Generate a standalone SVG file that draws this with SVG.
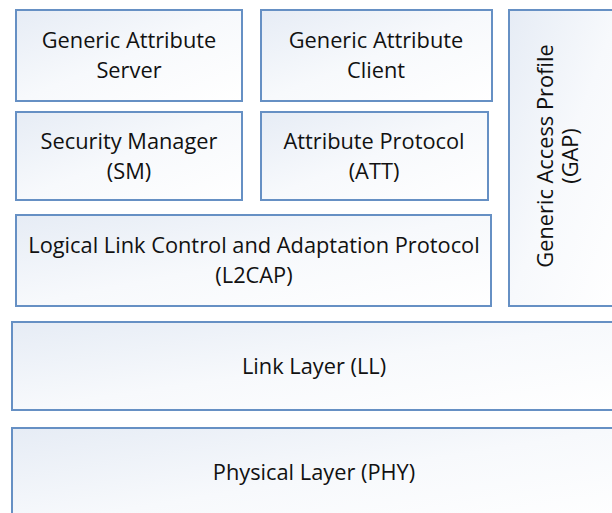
<svg xmlns="http://www.w3.org/2000/svg" width="612" height="513" viewBox="0 0 612 513">
<defs>
<linearGradient id="g" x1="0" y1="0" x2="1" y2="1">
<stop offset="0" stop-color="#e6ecf5"/>
<stop offset="0.5" stop-color="#f7f9fc"/>
<stop offset="1" stop-color="#ffffff"/>
</linearGradient>
</defs>
<style>
rect{fill:url(#g);stroke:#6690c4;stroke-width:2}
text{font-family:"Open Sans","Noto Sans",sans-serif;font-size:21.8px;fill:#111;text-anchor:middle}
</style>
<rect width="612" height="513" style="fill:#fff;stroke:none"/>
<g id="gas"><rect x="16" y="10" width="226" height="91"/><text x="129" y="48">Generic Attribute</text><text x="129" y="78">Server</text></g>
<g id="gac"><rect x="261" y="10" width="231" height="91"/><text x="376" y="48">Generic Attribute</text><text x="376" y="78">Client</text></g>
<g id="sm"><rect x="16" y="112" width="226" height="88"/><text x="129" y="149">Security Manager</text><text x="129" y="179">(SM)</text></g>
<g id="att"><rect x="261" y="112" width="227" height="88"/><text x="374" y="149">Attribute Protocol</text><text x="374" y="179">(ATT)</text></g>
<g id="l2cap"><rect x="16" y="215" width="475" height="91"/><text x="254" y="253">Logical Link Control and Adaptation Protocol</text><text x="254" y="283">(L2CAP)</text></g>
<g id="gap"><rect x="509" y="10" width="110" height="296"/><text transform="translate(553,156) rotate(-90)">Generic Access Profile</text><text transform="translate(578,156) rotate(-90)">(GAP)</text></g>
<g id="ll"><rect x="12" y="322" width="610" height="88"/><text x="314" y="374">Link Layer (LL)</text></g>
<g id="phy"><rect x="12" y="428" width="610" height="100"/><text x="314" y="480">Physical Layer (PHY)</text></g>
<g id="connectors"/>
</svg>
